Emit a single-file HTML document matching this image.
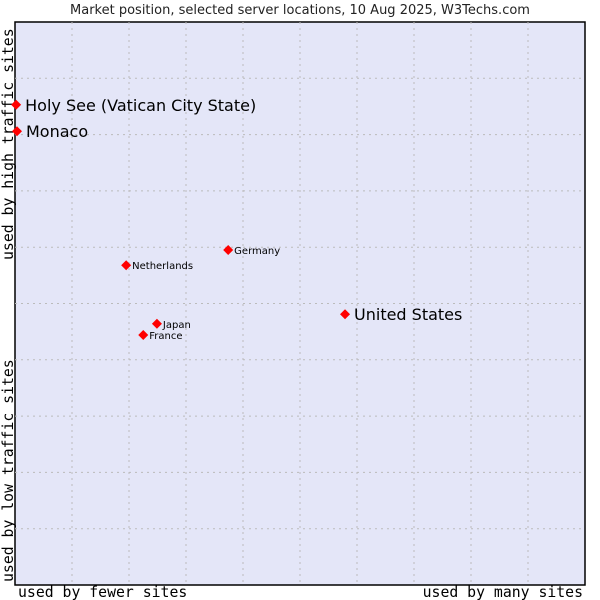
<!DOCTYPE html>
<html><head><meta charset="utf-8"><style>
body{margin:0;background:#fff;}
svg{display:block;}
</style></head><body>
<svg width="600" height="600" xmlns="http://www.w3.org/2000/svg">
<rect width="600" height="600" fill="#fff"/>
<text x="300" y="14" text-anchor="middle" font-family="DejaVu Sans, Liberation Sans, sans-serif" font-size="13" fill="#222">Market position, selected server locations, 10 Aug 2025, W3Techs.com</text>
<rect x="15" y="22" width="570" height="563" fill="#e4e6f8" stroke="#000" stroke-width="1.5"/>
<g id="grid"></g>
<text x="18" y="597" font-family="DejaVu Sans Mono, Liberation Mono, monospace" font-size="14.8" fill="#000">used by fewer sites</text>
<text x="583" y="597" text-anchor="end" font-family="DejaVu Sans Mono, Liberation Mono, monospace" font-size="14.8" fill="#000">used by many sites</text>
<text transform="translate(13,582) rotate(-90)" font-family="DejaVu Sans Mono, Liberation Mono, monospace" font-size="14.8" fill="#000">used by low traffic sites</text>
<text transform="translate(13,260) rotate(-90)" font-family="DejaVu Sans Mono, Liberation Mono, monospace" font-size="14.8" fill="#000">used by high traffic sites</text>
<g id="points"></g>
</svg>
<script>
const countries = ["Holy See (Vatican City State)","Monaco","Germany","Netherlands","United States","Japan","France"];
const xValues = [0.2,0.35,37.4,19.5,57.9,24.9,22.5];
const yValues = [85.3,80.6,59.5,56.8,48.1,46.4,44.4];
const bigLabel = [true,true,false,false,true,false,false];
const NS="http://www.w3.org/2000/svg";
const L=15,T=22,W=570,H=563;
function sx(v){return L+v/100*W;}
function sy(v){return T+H-v/100*H;}
const grid=document.getElementById('grid');
for(let i=1;i<10;i++){
  const v=document.createElementNS(NS,'line');
  v.setAttribute('x1',sx(i*10));v.setAttribute('x2',sx(i*10));v.setAttribute('y1',T);v.setAttribute('y2',T+H);
  v.setAttribute('stroke','#bbb');v.setAttribute('stroke-dasharray','2,4');
  
  
  grid.appendChild(v);
  const h=document.createElementNS(NS,'line');
  h.setAttribute('y1',sy(i*10));h.setAttribute('y2',sy(i*10));h.setAttribute('x1',L);h.setAttribute('x2',L+W);
  h.setAttribute('stroke','#bbb');h.setAttribute('stroke-dasharray','2,4');
  
  
  grid.appendChild(h);
}
const pts=document.getElementById('points');
countries.forEach((c,i)=>{
  const x=sx(xValues[i]),y=sy(yValues[i]);
  const p=document.createElementNS(NS,'polygon');
  p.setAttribute('points',`${x},${y-5} ${x+5},${y} ${x},${y+5} ${x-5},${y}`);
  p.setAttribute('fill','#f00');
  
  
  pts.appendChild(p);
  const t=document.createElementNS(NS,'text');
  t.setAttribute('x',x+(bigLabel[i]?9:6));
  t.setAttribute('y',y+(bigLabel[i]?6:4));
  t.setAttribute('font-family','DejaVu Sans, Liberation Sans, sans-serif');
  t.setAttribute('font-size',bigLabel[i]?'16':'10');
  t.setAttribute('fill','#000');
  t.textContent=c;
  
  
  pts.appendChild(t);
});
</script>
</body></html>
